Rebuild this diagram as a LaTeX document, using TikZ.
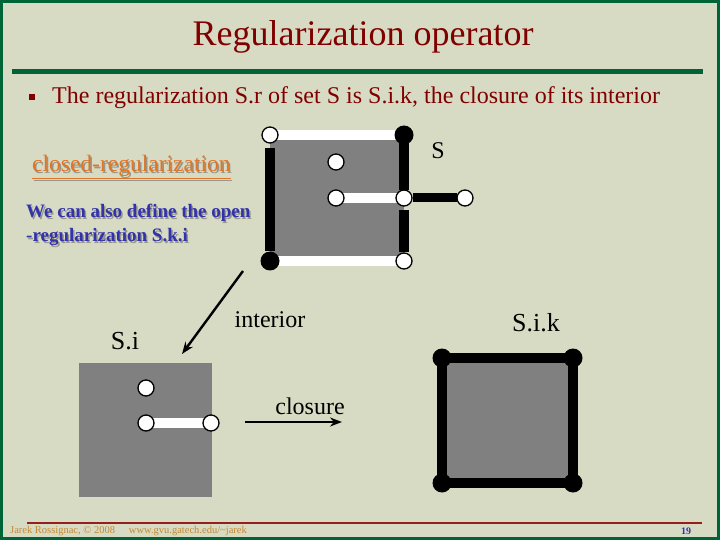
\documentclass[tikz,border=0pt]{standalone}
\usepackage{fontspec}
\setmainfont{Liberation Serif}
\usetikzlibrary{arrows.meta}
\definecolor{slidebg}{RGB}{216,219,196}
\definecolor{framegreen}{RGB}{0,100,55}
\definecolor{titlered}{RGB}{128,0,0}
\definecolor{linkorange}{RGB}{226,116,36}
\definecolor{noteblue}{RGB}{50,50,170}
\definecolor{footred}{RGB}{150,30,30}
\definecolor{footorange}{RGB}{196,136,50}
\definecolor{setgray}{RGB}{128,128,128}
\definecolor{shadowgray}{RGB}{150,150,140}

\newcommand{\shadowed}[2]{\rlap{\hspace{1.5pt}\raisebox{-1.5pt}{\color{shadowgray}#2}}{\color{#1}#2}}

\tikzset{
  openpt/.style={circle,draw=black,fill=white,line width=1.3pt,minimum size=16pt,inner sep=0pt},
  closedpt/.style={circle,fill=black,minimum size=19pt,inner sep=0pt},
  inedge/.style={line width=10pt,white},
  bdedge/.style={line width=10pt,black},
  lbl/.style={font=\fontsize{24}{28}\selectfont,inner sep=0pt},
  opr/.style={line width=2.4pt,-{Stealth[length=12pt,width=9pt]}},
}

\begin{document}
\begin{tikzpicture}[x=1pt,y=-1pt]
    \useasboundingbox (0,0) rectangle (720,540);
    % slide
    \fill[slidebg] (0,0) rectangle (720,540);
    \draw[framegreen,line width=3pt] (1.5,1.5) rectangle (718.5,538.5);
    \node[titlered,font=\fontsize{36}{40}\selectfont] (title) at (363,37) {Regularization operator};
    \draw[framegreen,line width=5pt] (12,72) -- (703,72);
    \fill[titlered] (29,94) rectangle (35,100);
    \node[titlered,lbl,anchor=west] (intro) at (52,98) {The regularization S.r of set S is S.i.k, the closure of its interior};

    % side notes
    \node[lbl,font=\fontsize{23.5}{28}\selectfont,anchor=west] (closedreg) at (32,168) {\shadowed{linkorange}{\underline{closed-regularization}}};
    \node[anchor=west,inner sep=0pt,align=left,font=\fontsize{19}{24}\selectfont\bfseries] (opennote) at (26,226)
        {\shadowed{noteblue}{We can also define the open}\\\shadowed{noteblue}{-regularization S.k.i}};

    % set S
    \coordinate (s-tl) at (270,135);
    \coordinate (s-tr) at (404,135);
    \coordinate (s-bl) at (270,261);
    \coordinate (s-br) at (404,261);
    \coordinate (s-in) at (336,162);
    \coordinate (s-cl) at (336,198);
    \coordinate (s-cr) at (404,198);
    \coordinate (s-out) at (465,198);
    \fill[setgray] (s-tl) rectangle (s-br);
    \draw[inedge] (s-tl) -- (s-tr);
    \draw[inedge] (s-bl) -- (s-br);
    \draw[bdedge,shorten <=13pt,shorten >=10pt] (s-tl) -- (s-bl);
    \draw[bdedge,shorten >=8pt] (s-tr) -- (s-cr);
    \draw[bdedge,shorten <=12pt,shorten >=9pt] (s-cr) -- (s-br);
    \draw[inedge] (s-cl) -- (s-cr);
    \draw[bdedge,line width=9pt,shorten <=9pt,shorten >=8pt] (s-cr) -- (s-out);
    \node[openpt] at (s-tl) {};
    \node[closedpt] at (s-tr) {};
    \node[closedpt] at (s-bl) {};
    \node[openpt] at (s-br) {};
    \node[openpt] at (s-in) {};
    \node[openpt] at (s-cl) {};
    \node[openpt] at (s-cr) {};
    \node[openpt] at (s-out) {};
    \node[lbl] (s-name) at (438,151) {S};

    % set S.i
    \coordinate (i-tl) at (79,363);
    \coordinate (i-br) at (212,497);
    \coordinate (i-in) at (146,388);
    \coordinate (i-cl) at (146,423);
    \coordinate (i-cr) at (211,423);
    \fill[setgray] (i-tl) rectangle (i-br);
    \draw[inedge] (i-cl) -- (i-cr);
    \node[openpt] at (i-in) {};
    \node[openpt] at (i-cl) {};
    \node[openpt] at (i-cr) {};
    \node[lbl,font=\fontsize{26}{28}\selectfont] (i-name) at (125,341) {S.i};

    % set S.i.k
    \coordinate (k-tl) at (442,358);
    \coordinate (k-tr) at (573,358);
    \coordinate (k-bl) at (442,483);
    \coordinate (k-br) at (573,483);
    \fill[setgray] (k-tl) rectangle (k-br);
    \draw[bdedge] (k-tl) -- (k-tr) -- (k-br) -- (k-bl) -- cycle;
    \node[closedpt] at (k-tl) {};
    \node[closedpt] at (k-tr) {};
    \node[closedpt] at (k-bl) {};
    \node[closedpt] at (k-br) {};
    \node[lbl,font=\fontsize{26}{28}\selectfont] (k-name) at (536,323) {S.i.k};

    % operators
    \coordinate (int-from) at (243,271);
    \coordinate (int-to) at (182,354);
    \draw[opr] (int-from) -- (int-to);
    \node[lbl] (int-name) at (270,320) {interior};
    \coordinate (cls-from) at (245,422);
    \coordinate (cls-to) at (342,422);
    \draw[opr,line width=2pt] (cls-from) -- (cls-to);
    \node[lbl] (cls-name) at (310,406) {closure};

    % footer
    \draw[footred,line width=2pt] (27,523) -- (702,523);
    \node[footorange,anchor=west,inner sep=0pt,font=\fontsize{10.5}{12}\selectfont] (credit) at (10,531) {Jarek Rossignac, © 2008\hspace{14pt}www.gvu.gatech.edu/\textasciitilde jarek};
    \node[noteblue,inner sep=0pt,font=\fontsize{10}{12}\selectfont\bfseries] (pageno) at (686,531) {19};
\end{tikzpicture}
\end{document}
